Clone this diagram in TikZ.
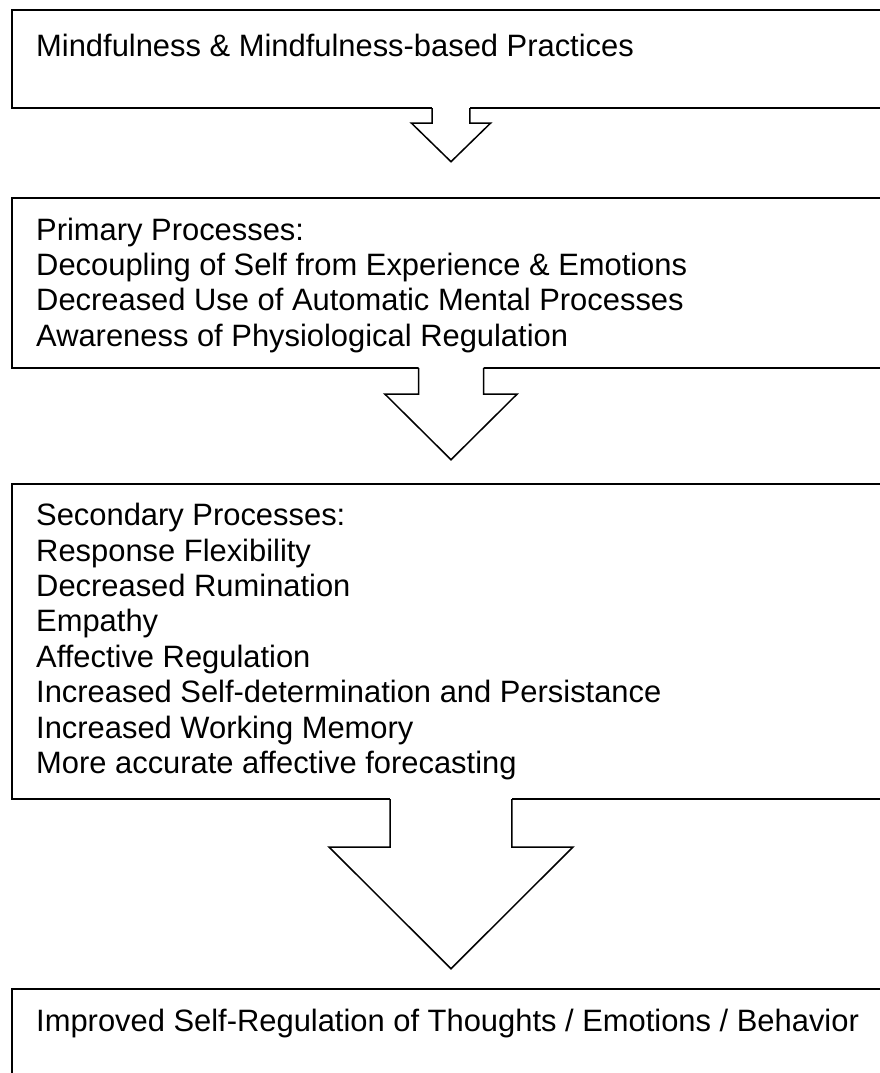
\documentclass[tikz,border=0pt]{standalone}
\usepackage{fontspec}
\setmainfont{Liberation Sans}
\usetikzlibrary{calc}

\tikzset{
  procbox/.style={draw, line width=1.8pt, rectangle, anchor=north west,
    inner sep=0pt, outer sep=0pt, minimum width=878pt},
  proctext/.style={anchor=north west, align=left, inner sep=0pt,
    font=\fontsize{30.9}{35.4}\selectfont},
  arrowline/.style={line width=1.5pt, line join=miter},
}

% #1 box above, #2 half shaft, #3 shaft length, #4 half head, #5 head length
\newcommand\procarrow[5]{%
  \fill[white] ($(#1.south)+(-#2,-1)$) -- ($(#1.south)+(-#2,#3)$)
    -- ($(#1.south)+(-#4,#3)$) -- ($(#1.south)+(0,#3+#5)$)
    -- ($(#1.south)+(#4,#3)$) -- ($(#1.south)+(#2,#3)$)
    -- ($(#1.south)+(#2,-1)$) -- cycle;
  \draw[arrowline] ($(#1.south)+(-#2,0)$) -- ($(#1.south)+(-#2,#3)$)
    -- ($(#1.south)+(-#4,#3)$) -- ($(#1.south)+(0,#3+#5)$)
    -- ($(#1.south)+(#4,#3)$) -- ($(#1.south)+(#2,#3)$)
    -- ($(#1.south)+(#2,0)$);
}

\begin{document}
\begin{tikzpicture}[x=1pt, y=-1pt]
  \useasboundingbox (0,0) rectangle (880,1073);

  \node[procbox, minimum height=98pt]  (practice) at (12,10) {};
  \node[procbox, minimum height=170pt] (primary) at (12,198) {};
  \node[procbox, minimum height=315pt] (secondary) at (12,484) {};
  \node[procbox, minimum height=120pt] (outcome) at (12,989) {};

  \node[proctext] (practicetext) at ($(practice.north west)+(24,24)$)
    {Mindfulness \& Mindfulness-based Practices};
  \node[proctext] (primarytext) at ($(primary.north west)+(24,19.5)$)
    {Primary Processes:\\
     Decoupling of Self from Experience \& Emotions\\
     Decreased Use of Automatic Mental Processes\\
     Awareness of Physiological Regulation};
  \node[proctext] (secondarytext) at ($(secondary.north west)+(24,19)$)
    {Secondary Processes:\\
     Response Flexibility\\
     Decreased Rumination\\
     Empathy\\
     Affective Regulation\\
     Increased Self-determination and Persistance\\
     Increased Working Memory\\
     More accurate affective forecasting};
  \node[proctext] (outcometext) at ($(outcome.north west)+(24,20)$)
    {Improved Self-Regulation of Thoughts / Emotions / Behavior};

  \procarrow{practice}{18.8}{15}{39.7}{38.7}
  \procarrow{primary}{32.5}{26}{66.2}{65.7}
  \procarrow{secondary}{60.8}{48}{122}{121.7}
\end{tikzpicture}
\end{document}
